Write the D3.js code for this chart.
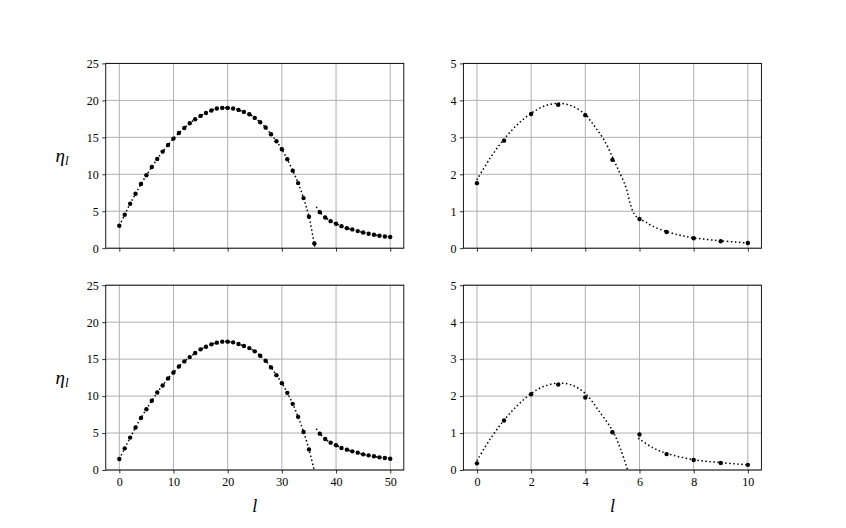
<!DOCTYPE html>
<html><head><meta charset="utf-8">
<script src="https://cdn.jsdelivr.net/npm/d3@7"></script>
<style>body{margin:0;background:#fff}svg{display:block}</style>
</head><body>
<script>
// ---- data ----
const lSmall = d3.range(0, 11);

// top-left panel dots (two branches)
const tlDots1L = d3.range(0, 37);
const tlDots1 = [3.04,4.53,6.02,7.37,8.68,9.86,10.99,12.07,13.07,13.97,14.83,15.59,16.27,16.9,17.45,17.9,18.3,18.63,18.9,18.98,18.98,18.9,18.71,18.44,18.13,17.63,17.04,16.32,15.41,14.47,13.38,12.03,10.49,8.81,6.78,4.25,0.64];
const tlDots2L = d3.range(37, 51);
const tlDots2 = [4.88,4.16,3.66,3.31,2.98,2.71,2.54,2.31,2.13,1.95,1.82,1.68,1.59,1.52];
// top-left curves
const tlCurve1L = d3.range(0, 36).concat([36.12]);
const tlCurve1 = tlDots1.slice(0, 36).concat([0]);
const tlCurve2L = [36.35].concat(d3.range(37, 51));
const tlCurve2 = [5.6].concat(tlDots2);

// top-right panel
const trDots = [1.76,2.91,3.63,3.88,3.60,2.39,0.79,0.44,0.27,0.19,0.14];
const trCurveL = [0,0.5,1,1.5,2,2.5,3,3.5,4,4.2,4.4,4.7,5,5.2,5.5,5.66,5.8,5.95,6.2,6.5,7,7.5,8,9,10];
const trCurve  = [1.85,2.45,2.95,3.35,3.65,3.85,3.92,3.85,3.62,3.44,3.24,2.92,2.47,2.15,1.65,1.2,0.93,0.82,0.72,0.59,0.45,0.35,0.28,0.2,0.14];

// bottom-left panel
const blDots1L = d3.range(0, 36);
const blDots1 = [1.49,2.93,4.38,5.74,7.05,8.22,9.36,10.49,11.44,12.39,13.2,14.01,14.69,15.27,15.82,16.32,16.68,17.0,17.23,17.36,17.36,17.27,17.04,16.77,16.49,16.05,15.46,14.78,13.88,12.83,11.75,10.44,8.95,7.19,5.15,2.79];
const blDots2L = d3.range(37, 51);
const blDots2 = [4.92,4.2,3.70,3.34,2.98,2.75,2.52,2.35,2.12,1.98,1.85,1.71,1.63,1.53];
const blCurve1L = d3.range(0, 36).concat([35.95]);
const blCurve1 = blDots1.concat([0]);
const blCurve2L = [36.35].concat(blDots2L);
const blCurve2 = [5.6].concat(blDots2);

// bottom-right panel
const brDots = [0.18,1.34,2.05,2.31,1.96,1.02,0.96,0.43,0.27,0.19,0.14];
const brCurve1L = [0,0.5,1,1.5,2,2.5,3,3.5,4,4.5,5,5.3,5.56];
const brCurve1  = [0.25,0.85,1.35,1.75,2.07,2.27,2.35,2.3,2.07,1.6,1.07,0.57,0];
const brCurve2L = [5.95,6.5,7,8,9,10];
const brCurve2  = [0.86,0.6,0.45,0.28,0.2,0.14];

const bigXTicks = [0,10,20,30,40,50];
const smallXTicks = [0,2,4,6,8,10];
const bigYTicks = [0,5,10,15,20,25];
const smallYTicks = [0,1,2,3,4,5];

// ---- layout ----
const W = 846, H = 528;
const svg = d3.select("body").append("svg").attr("width", W).attr("height", H);
const FONT = "'Liberation Serif', 'DejaVu Serif', serif";

const cols = [[105.75, 403.8], [463.4, 761.4]];
const rows = [[63.4, 248.2], [285.2, 470]];

const zip = (xs, ys) => xs.map((x, i) => [x, ys[i]]);

const panels = [
  {c:0, r:0, xd:[-2.5,52.5], yd:[0,25], xt:bigXTicks, yt:bigYTicks,
   dots:[zip(tlDots1L, tlDots1), zip(tlDots2L, tlDots2)],
   curves:[zip(tlCurve1L, tlCurve1), zip(tlCurve2L, tlCurve2)]},
  {c:1, r:0, xd:[-0.5,10.5], yd:[0,5], xt:smallXTicks, yt:smallYTicks,
   dots:[zip(lSmall, trDots)],
   curves:[zip(trCurveL, trCurve)]},
  {c:0, r:1, xd:[-2.5,52.5], yd:[0,25], xt:bigXTicks, yt:bigYTicks,
   dots:[zip(blDots1L, blDots1), zip(blDots2L, blDots2)],
   curves:[zip(blCurve1L, blCurve1), zip(blCurve2L, blCurve2)]},
  {c:1, r:1, xd:[-0.5,10.5], yd:[0,5], xt:smallXTicks, yt:smallYTicks,
   dots:[zip(lSmall, brDots)],
   curves:[zip(brCurve1L, brCurve1), zip(brCurve2L, brCurve2)]},
];

panels.forEach(p => {
  const [x0, x1] = cols[p.c], [y0, y1] = rows[p.r];
  const x = d3.scaleLinear().domain(p.xd).range([x0, x1]);
  const y = d3.scaleLinear().domain(p.yd).range([y1, y0]);
  const g = svg.append("g");
  const clipId = "clip" + p.c + p.r;
  svg.append("clipPath").attr("id", clipId).append("rect")
    .attr("x", x0).attr("y", y0).attr("width", x1 - x0).attr("height", y1 - y0);

  // grid
  g.append("g").selectAll("line").data(p.xt).join("line")
    .attr("x1", d => x(d)).attr("x2", d => x(d)).attr("y1", y0).attr("y2", y1)
    .attr("stroke", "#b0b0b0").attr("stroke-width", 1);
  g.append("g").selectAll("line").data(p.yt).join("line")
    .attr("y1", d => y(d)).attr("y2", d => y(d)).attr("x1", x0).attr("x2", x1)
    .attr("stroke", "#b0b0b0").attr("stroke-width", 1);

  // curves
  const line = d3.line().x(d => x(d[0])).y(d => y(d[1])).curve(d3.curveCatmullRom.alpha(0.5));
  const cg = g.append("g").attr("clip-path", `url(#${clipId})`);
  p.curves.forEach(c => {
    cg.append("path").attr("d", line(c)).attr("fill", "none")
      .attr("stroke", "#000").attr("stroke-width", 1.5)
      .attr("stroke-dasharray", "1.5,2.5");
  });
  // dots
  p.dots.forEach(ds => {
    cg.append("g").selectAll("circle").data(ds).join("circle")
      .attr("cx", d => x(d[0])).attr("cy", d => y(d[1])).attr("r", 2.2).attr("fill", "#000");
  });

  // axes
  const xa = d3.axisBottom(x).tickValues(p.xt).tickSize(3.5).tickPadding(3.5)
    .tickFormat(p.r === 1 ? d3.format("d") : () => "");
  const ya = d3.axisLeft(y).tickValues(p.yt).tickSize(3.5).tickPadding(3.5).tickFormat(d3.format("d"));
  const gx = g.append("g").attr("transform", `translate(0,${y1})`).call(xa);
  const gy = g.append("g").attr("transform", `translate(${x0},0)`).call(ya);
  [gx, gy].forEach(a => {
    a.select(".domain").remove();
    a.selectAll(".tick line").attr("stroke", "#000").attr("stroke-width", 0.8);
    a.selectAll("text").attr("font-family", FONT).attr("font-size", 12).attr("fill", "#000");
  });
  // spines
  g.append("rect").attr("x", x0).attr("y", y0).attr("width", x1 - x0).attr("height", y1 - y0)
    .attr("fill", "none").attr("stroke", "#000").attr("stroke-width", 0.9);

  // labels
  if (p.c === 0) {
    const t = svg.append("text").attr("x", 62).attr("y", (y0 + y1) / 2 + 6)
      .attr("text-anchor", "middle").attr("font-family", FONT).attr("font-size", 19)
      .attr("font-style", "italic");
    t.append("tspan").text("η");
    t.append("tspan").attr("font-size", 13).attr("dy", 3).text("l");
  }
  if (p.r === 1) {
    svg.append("text").attr("x", (x0 + x1) / 2).attr("y", 512)
      .attr("text-anchor", "middle").attr("font-family", FONT).attr("font-size", 18)
      .attr("font-style", "italic").text("l");
  }
});
</script>
</body></html>
